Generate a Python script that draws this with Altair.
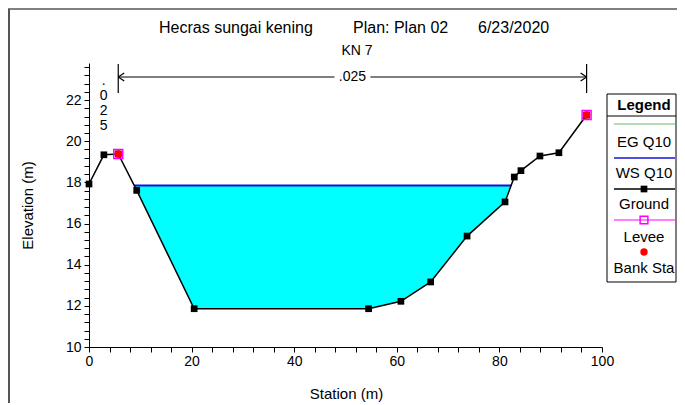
import altair as alt
import pandas as pd

# ---------------- data ----------------
station = [0.0, 2.9, 5.7, 9.3, 20.5, 54.5, 60.8, 66.6, 73.7, 81.1, 82.9, 84.2, 87.9, 91.6, 97.0]
elevation = [17.92, 19.34, 19.38, 17.61, 11.86, 11.86, 12.22, 13.16, 15.39, 17.05, 18.26, 18.57, 19.28, 19.44, 21.27]
ws_elevation = 17.85
bank_station = [5.7, 97.0]
bank_elevation = [19.38, 21.27]
levee_station = [5.7, 97.0]
levee_elevation = [19.38, 21.27]
n_values = [".025", ".025", ".025"]      # left overbank, channel, right overbank
title_parts = ["Hecras sungai kening", "Plan: Plan 02", "6/23/2020"]
subtitle = "KN 7"
legend_labels = ["EG Q10", "WS Q10", "Ground", "Levee", "Bank Sta"]
x_ticks = list(range(0, 101, 4))
y_ticks = [round(10 + 0.4 * i, 1) for i in range(35)]

FONT = "Liberation Sans"

# ---------------- water edges (where WS meets ground) ----------------
cross = []
for i in range(len(station) - 1):
    a = elevation[i] - ws_elevation
    b = elevation[i + 1] - ws_elevation
    if a * b < 0:
        t = a / (a - b)
        cross.append(station[i] + t * (station[i + 1] - station[i]))
xL, xR = cross[0], cross[-1]
wet_s = [xL] + [s for s in station if xL < s < xR] + [xR]
wet_g = [ws_elevation] + [e for s, e in zip(station, elevation) if xL < s < xR] + [ws_elevation]

ground_df = pd.DataFrame({"s": station, "e": elevation})
area_df = pd.DataFrame({"s": wet_s, "e": wet_g, "w": [ws_elevation] * len(wet_s)})
ws_df = pd.DataFrame({"s": [xL, xR], "e": [ws_elevation, ws_elevation]})
bank_df = pd.DataFrame({"s": bank_station, "e": bank_elevation})
levee_df = pd.DataFrame({"s": levee_station, "e": levee_elevation})

mid = (bank_station[0] + bank_station[1]) / 2
gap = 3.5
nline_df = pd.DataFrame({"s": [bank_station[0], mid + gap], "s2": [mid - gap, bank_station[1]]})
nleft_df = pd.DataFrame({"s": [bank_station[0]]})
nright_df = pd.DataFrame({"s": [bank_station[1]]})
ntext_df = pd.DataFrame({"s": [mid]})
nlob_df = pd.DataFrame({"s": [(0 + bank_station[0]) / 2]})

xs = alt.Scale(domain=[0, 100], nice=False, zero=False)
ys = alt.Scale(domain=[10, 23.8], nice=False, zero=False)

xaxis = alt.Axis(
    values=x_ticks, labelExpr="datum.value % 20 === 0 ? format(datum.value, 'd') : ''",
    grid=False, tickSize=5, labelPadding=2, labelFontSize=14, labelColor="black",
    domainColor="black", tickColor="black", labelFlush=False, labelOverlap=False,
    title="Station (m)", titleFontSize=15, titleFontWeight="normal", titleColor="black",
    titleX=257, titleY=46, titleAlign="center", titleBaseline="middle",
)
yaxis = alt.Axis(
    values=y_ticks,
    labelExpr="(abs(datum.value - round(datum.value)) < 0.001 && round(datum.value) % 2 === 0) ? format(round(datum.value), 'd') : ''",
    grid=False, tickSize=5, labelPadding=3, labelFontSize=14, labelColor="black",
    domainColor="black", tickColor="black", labelFlush=False, labelOverlap=False,
    title="Elevation (m)", titleFontSize=15, titleFontWeight="normal", titleColor="black",
    titleX=-62, titleY=142, titleAlign="center", titleBaseline="middle", titleAngle=-90,
)


def X(field="s"):
    return alt.X(f"{field}:Q", scale=xs, axis=xaxis)


def Y(field="e"):
    return alt.Y(f"{field}:Q", scale=ys, axis=yaxis)


area = alt.Chart(area_df).mark_area(color="#00FFFF", opacity=1, interpolate="linear").encode(
    x=X(), y=Y(), y2="w:Q")
ws_line = alt.Chart(ws_df).mark_line(color="#1414D8", strokeWidth=2).encode(x=X(), y=Y())
ground_line = alt.Chart(ground_df).mark_line(color="black", strokeWidth=1.5).encode(x=X(), y=Y())
ground_pts = alt.Chart(ground_df).mark_square(color="black", size=45, opacity=1).encode(x=X(), y=Y())
levee_pts = alt.Chart(levee_df).mark_square(filled=False, color="#FF00FF", size=80, strokeWidth=1.5,
                                           opacity=1).encode(x=X(), y=Y())
bank_pts = alt.Chart(bank_df).mark_circle(color="#FF0000", size=55, opacity=1).encode(x=X(), y=Y())

# Manning's n annotation
n_seg = alt.Chart(nline_df).mark_rule(color="black", strokeWidth=1).encode(
    x=X(), x2="s2:Q", y=alt.value(14))
n_ticks = alt.Chart(bank_df).mark_rule(color="black", strokeWidth=1.2).encode(
    x=X(), y=alt.value(1), y2=alt.value(30))
arr_l = alt.Chart(nleft_df).mark_point(shape="M0,0L1.5,-1M0,0L1.5,1", filled=False, size=64,
                                        color="black", strokeWidth=1.2, opacity=1).encode(
    x=X(), y=alt.value(14))
arr_r = alt.Chart(nright_df).mark_point(shape="M0,0L-1.5,-1M0,0L-1.5,1", filled=False, size=64,
                                         color="black", strokeWidth=1.2, opacity=1).encode(
    x=X(), y=alt.value(14))
n_text = alt.Chart(ntext_df).mark_text(text=n_values[1], fontSize=14, baseline="middle", align="center",
                                        color="black", font=FONT).encode(x=X(), y=alt.value(14))
n_lob = alt.Chart(nlob_df).mark_text(text=list(n_values[0]), fontSize=14, lineHeight=15,
                                      baseline="alphabetic", align="center", color="black", font=FONT).encode(
    x=X(), y=alt.value(22))

# ---------------- decorations in pixel space ----------------
dummy = pd.DataFrame({"a": [0]})
base = alt.Chart(dummy)


def hline(x1, x2, y, color, w=1.0):
    return base.mark_rule(color=color, strokeWidth=w).encode(
        x=alt.value(x1), x2=alt.value(x2), y=alt.value(y))


def vline(x, y1, y2, color, w=1.0):
    return base.mark_rule(color=color, strokeWidth=w).encode(
        x=alt.value(x), y=alt.value(y1), y2=alt.value(y2))


def label(txt, x, y, size=15, weight="normal", align="center"):
    return base.mark_text(text=txt, fontSize=size, fontWeight=weight, align=align,
                          baseline="middle", color="black", font=FONT).encode(
        x=alt.value(x), y=alt.value(y))


layers = [area, ws_line, ground_line, ground_pts, levee_pts, bank_pts,
          n_seg, n_ticks, arr_l, arr_r, n_text, n_lob]

# outer frame
layers.append(hline(-81, 600, -54, "black", 1))
layers.append(vline(-80, -54, 400, "#555555", 2))

# titles
layers.append(label(title_parts[0], 70, -35, size=16, align="left"))
layers.append(label(title_parts[1], 264, -35, size=16, align="left"))
layers.append(label(title_parts[2], 389, -35, size=16, align="left"))
layers.append(label(subtitle, 268, -12, size=14))

# legend box
LX1, LX2, LCX = 518, 587, 555
layers.append(base.mark_rect(fill="white", stroke="black", strokeWidth=1).encode(
    x=alt.value(LX1), x2=alt.value(LX2), y=alt.value(31), y2=alt.value(219)))
layers.append(hline(LX1, LX2, 53, "black", 1))
layers.append(label("Legend", LCX, 42, size=15, weight="bold"))
LL1, LL2 = 525, 586
layers.append(hline(LL1, LL2, 61, "#66BB66", 1.2))
layers.append(label(legend_labels[0], LCX, 79))
layers.append(hline(LL1, LL2, 95, "#1414D8", 1.5))
layers.append(label(legend_labels[1], LCX, 110))
layers.append(hline(LL1, LL2, 126, "black", 1.5))
layers.append(base.mark_square(color="black", size=45, opacity=1).encode(x=alt.value(LCX), y=alt.value(126)))
layers.append(label(legend_labels[2], LCX, 141))
layers.append(hline(LL1, LL2, 157, "#FF00FF", 1.2))
layers.append(base.mark_square(filled=False, color="#FF00FF", size=60, strokeWidth=1.5, opacity=1).encode(
    x=alt.value(LCX), y=alt.value(157)))
layers.append(label(legend_labels[3], LCX, 174))
layers.append(base.mark_circle(color="#FF0000", size=55, opacity=1).encode(x=alt.value(LCX), y=alt.value(189)))
layers.append(label(legend_labels[4], LCX, 205))

chart = alt.layer(*layers).properties(
    width=513, height=284,
    padding={"left": 81, "top": 55, "right": 75, "bottom": 56},
    autosize=alt.AutoSizeParams(type="none"),
    background="white",
).configure(font=FONT).configure_view(stroke=None)

chart.save("out.html", embed_options={"renderer": "svg", "actions": False})
